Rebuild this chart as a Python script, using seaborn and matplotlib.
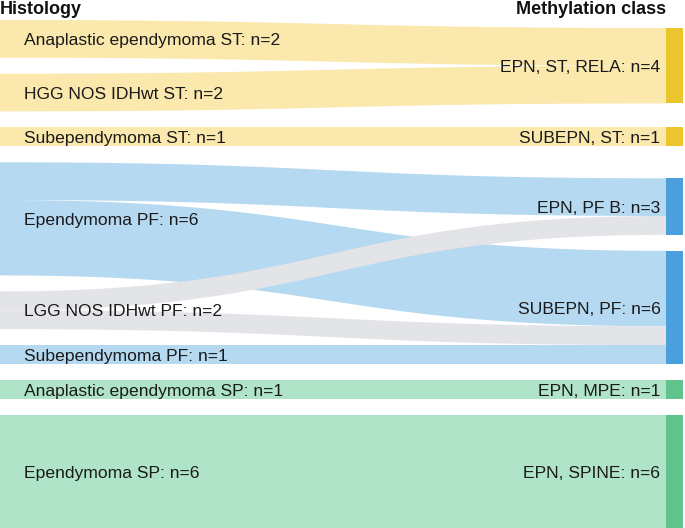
import numpy as np
import matplotlib.pyplot as plt
import seaborn as sns

# --- data -------------------------------------------------------------
histology = ['Anaplastic ependymoma ST', 'HGG NOS IDHwt ST', 'Subependymoma ST',
             'Ependymoma PF', 'LGG NOS IDHwt PF', 'Subependymoma PF',
             'Anaplastic ependymoma SP', 'Ependymoma SP']
histology_n = [2, 2, 1, 6, 2, 1, 1, 6]
histology_group = ['ST', 'ST', 'ST', 'PF', 'LGG', 'PF', 'SP', 'SP']

methylation = ['EPN, ST, RELA', 'SUBEPN, ST', 'EPN, PF B', 'SUBEPN, PF',
               'EPN, MPE', 'EPN, SPINE']
methylation_n = [4, 1, 3, 6, 1, 6]
methylation_group = ['ST', 'ST', 'PF', 'PF', 'SP', 'SP']

# flows: histology index -> methylation index, count
flow_source = [0, 1, 2, 3, 3, 4, 4, 5, 6, 7]
flow_target = [0, 0, 1, 2, 3, 2, 3, 3, 4, 5]
flow_n = [2, 2, 1, 2, 4, 1, 1, 1, 1, 6]

link_colors = {'ST': '#fae8ac', 'PF': '#b5d9f1', 'LGG': '#e3e4e8', 'SP': '#b0e4c8'}
node_colors = {'ST': '#eac52e', 'PF': '#4a9fdc', 'SP': '#5fc38b'}

# --- layout -----------------------------------------------------------
W, H = 685, 528
top = 20
pad = 16
node_w = 17
x_left = 0
x_right = W - 2 - node_w

sns.set_theme(style='white')
plt.rcParams['font.family'] = ['Liberation Sans', 'DejaVu Sans']

ky = (H - top - (len(histology) - 1) * pad) / sum(histology_n)

# left column stacked from the top
left_y0 = []
y = top
for n in histology_n:
    left_y0.append(y)
    y += n * ky + pad

# link offsets at source (ordered by target)
flows = list(zip(flow_source, flow_target, flow_n))
src_pos = {}
for i in range(len(histology)):
    y = left_y0[i]
    for k in sorted([k for k, f in enumerate(flows) if f[0] == i], key=lambda k: flows[k][1]):
        src_pos[k] = y
        y += flows[k][2] * ky

# right column: centre at weighted mean of incoming links, then resolve collisions
centers = []
for j in range(len(methylation)):
    ks = [k for k, f in enumerate(flows) if f[1] == j]
    tot = sum(flows[k][2] for k in ks)
    centers.append(sum((src_pos[k] + flows[k][2] * ky / 2) * flows[k][2] for k in ks) / tot)
right_y0 = [c - n * ky / 2 for c, n in zip(centers, methylation_n)]
right_y1 = [y0 + n * ky for y0, n in zip(right_y0, methylation_n)]
y = top
for j in range(len(methylation)):
    d = y - right_y0[j]
    if d > 0:
        right_y0[j] += d
        right_y1[j] += d
    y = right_y1[j] + pad
y = H
for j in reversed(range(len(methylation))):
    d = right_y1[j] - y
    if d > 0:
        right_y0[j] -= d
        right_y1[j] -= d
    y = right_y0[j] - pad

tgt_pos = {}
for j in range(len(methylation)):
    y = right_y0[j]
    for k in sorted([k for k, f in enumerate(flows) if f[1] == j], key=lambda k: flows[k][0]):
        tgt_pos[k] = y
        y += flows[k][2] * ky

# --- drawing ----------------------------------------------------------
fig = plt.figure(figsize=(6.85, 5.28), dpi=100)
ax = fig.add_axes([0, 0, 1, 1])
ax.set_xlim(0, W)
ax.set_ylim(H, 0)
ax.axis('off')

t = np.linspace(0, 1, 300)
xm = (x_left + x_right) / 2
for k, (s, tg, n) in enumerate(flows):
    w = n * ky
    ys = src_pos[k] + w / 2
    yt = tgt_pos[k] + w / 2
    # cubic bezier centre line, controls at the midpoint (d3 linkHorizontal)
    bx = (1 - t) ** 3 * x_left + 3 * (1 - t) ** 2 * t * xm + 3 * (1 - t) * t ** 2 * xm + t ** 3 * x_right
    by = (1 - t) ** 3 * ys + 3 * (1 - t) ** 2 * t * ys + 3 * (1 - t) * t ** 2 * yt + t ** 3 * yt
    dx = np.gradient(bx)
    dy = np.gradient(by)
    norm = np.hypot(dx, dy)
    nx, ny = -dy / norm, dx / norm
    px = np.concatenate([bx + nx * w / 2, (bx - nx * w / 2)[::-1]])
    py = np.concatenate([by + ny * w / 2, (by - ny * w / 2)[::-1]])
    ax.fill(px, py, color=link_colors[histology_group[s]], lw=0)

for j, name in enumerate(methylation):
    ax.add_patch(plt.Rectangle((x_right, right_y0[j]), node_w, right_y1[j] - right_y0[j],
                               color=node_colors[methylation_group[j]], lw=0))

fs = 12.6
em = fs * 100 / 72
for i, name in enumerate(histology):
    yc = left_y0[i] + histology_n[i] * ky / 2
    ax.text(24, yc + 0.35 * em, f'{name}: n={histology_n[i]}', fontsize=fs,
            color='#1a1a1a', ha='left', va='baseline')
for j, name in enumerate(methylation):
    yc = (right_y0[j] + right_y1[j]) / 2
    ax.text(x_right - 5.5, yc + 0.35 * em, f'{name}: n={methylation_n[j]}', fontsize=fs,
            color='#1a1a1a', ha='right', va='baseline')

ax.text(0, top - 5.5, 'Histology', fontsize=13, fontweight='bold', color='#111111',
        ha='left', va='baseline')
ax.text(x_right, top - 5.5, 'Methylation class', fontsize=13, fontweight='bold',
        color='#111111', ha='right', va='baseline')

fig.savefig('out.png', dpi=100)
